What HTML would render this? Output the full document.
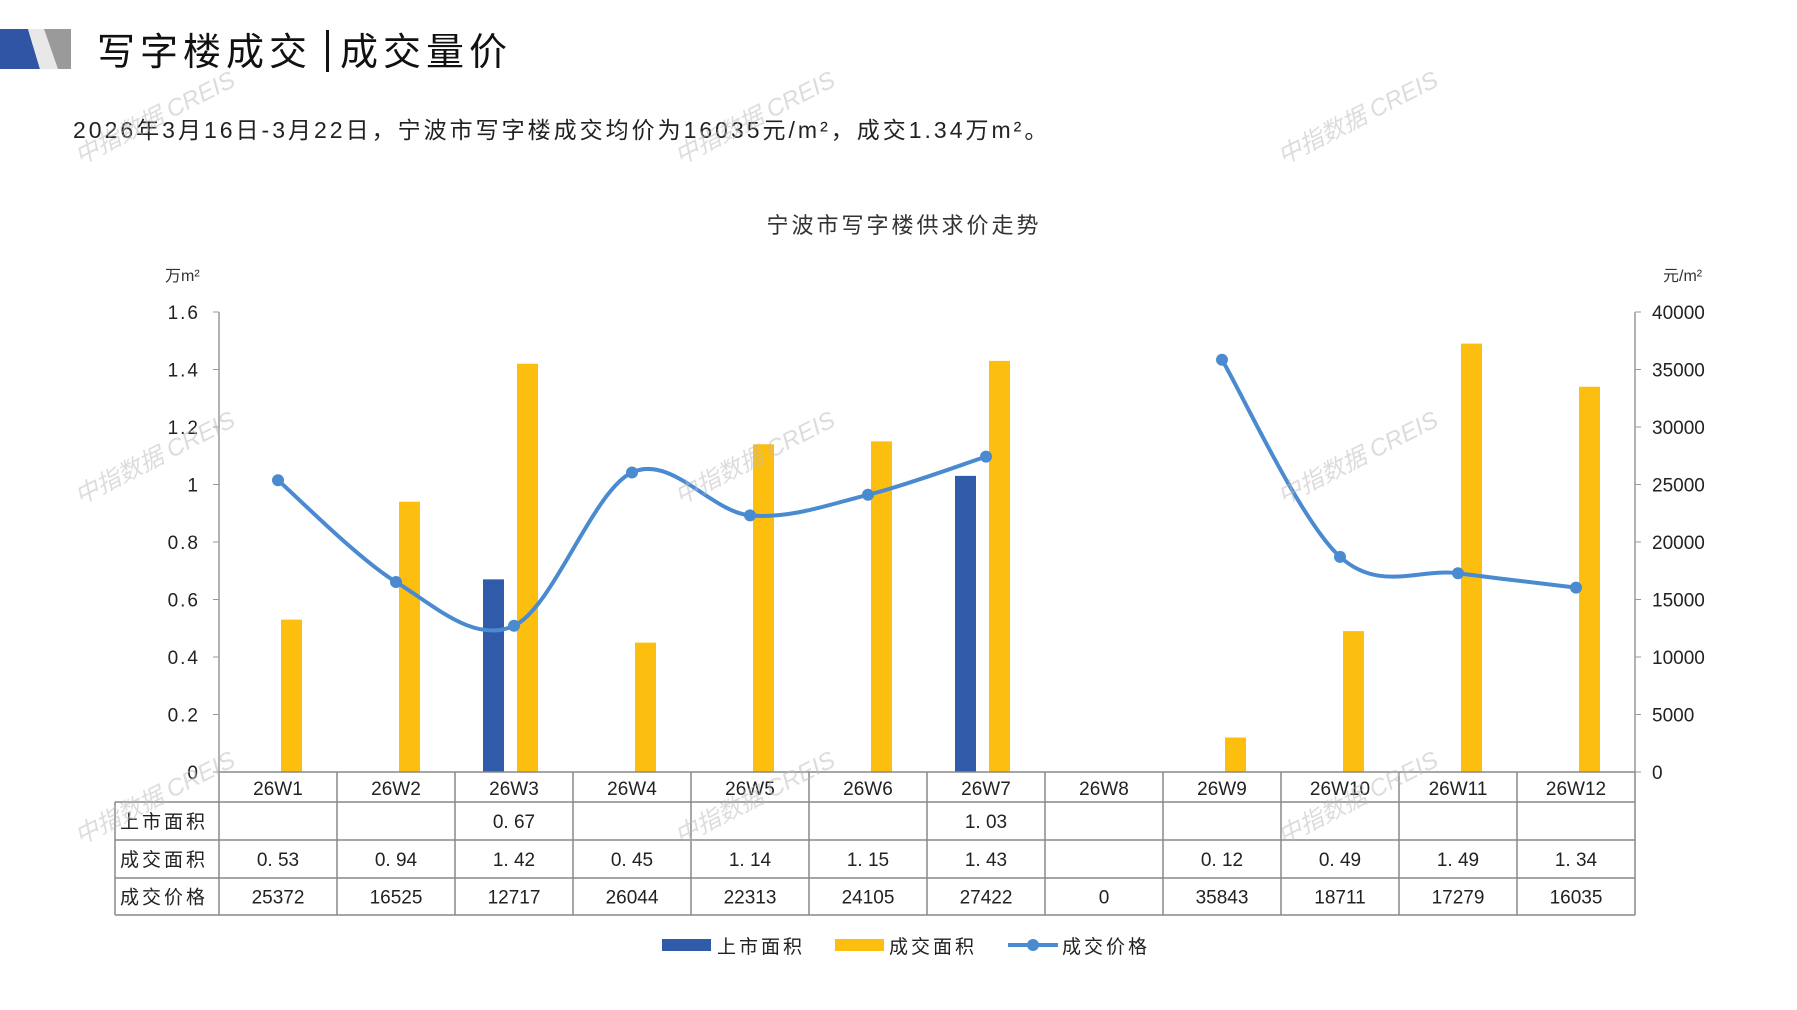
<!DOCTYPE html>
<html><head><meta charset="utf-8">
<style>
html,body{margin:0;padding:0;background:#fff;}
body{width:1797px;height:1010px;position:relative;overflow:hidden;font-family:"Liberation Sans","Noto Sans CJK SC",sans-serif;}
svg{position:absolute;left:0;top:0;}
</style></head><body>
<svg id="s" width="1797" height="1010" viewBox="0 0 1797 1010" xmlns="http://www.w3.org/2000/svg" font-family="Liberation Sans, Noto Sans CJK SC, sans-serif">
<polygon points="0,29 28,29 40,69 0,69" fill="#2f55a4"/>
<polygon points="28,29 71,29 71,69 40,69" fill="#d6d6d6"/>
<polygon points="40,29 71,29 71,69 58,69" fill="#9a9a9a"/>
<polygon points="28,29 44,29 58,69 40,69" fill="#e8e8e8"/>
<text x="97" y="65" font-size="38" fill="#111" letter-spacing="5">写字楼成交</text>
<rect x="326" y="30" width="3" height="42" fill="#111"/>
<text x="340" y="65" font-size="38" fill="#111" letter-spacing="5">成交量价</text>
<text x="73" y="138" font-size="23" fill="#222" letter-spacing="3">2026年3月16日-3月22日，宁波市写字楼成交均价为16035元/m²，成交1.34万m²。</text>
<text x="904" y="233" font-size="22" fill="#333" text-anchor="middle" letter-spacing="3">宁波市写字楼供求价走势</text>
<text x="165" y="281" font-size="16" fill="#333">万m²</text>
<text x="1663" y="281" font-size="16" fill="#333">元/m²</text>
<g id="g"></g>
</svg>
<script>
var g=document.getElementById('g'),h='';
var L=219,R=1635,T=312,B=772,cw=(R-L)/12;
h+='<line x1="'+L+'" y1="'+T+'" x2="'+L+'" y2="'+B+'" stroke="#999" stroke-width="1.5"/>';
h+='<line x1="'+R+'" y1="'+T+'" x2="'+R+'" y2="'+B+'" stroke="#999" stroke-width="1.5"/>';
for(var i=0;i<=8;i++){var y=B-i*(B-T)/8;
h+='<line x1="'+(L-6)+'" y1="'+y+'" x2="'+L+'" y2="'+y+'" stroke="#999"/>';
h+='<line x1="'+R+'" y1="'+y+'" x2="'+(R+6)+'" y2="'+y+'" stroke="#999"/>';
var lv=(i*0.2).toFixed(1);if(lv=='0.0')lv='0';if(lv=='1.0')lv='1';
h+='<text x="200" y="'+(y+7)+'" font-size="19" text-anchor="end" fill="#222" letter-spacing="2">'+lv+'</text>';
h+='<text x="1652" y="'+(y+7)+'" font-size="19" fill="#222">'+(i*5000)+'</text>';}
var sup=[null,null,0.67,null,null,null,1.03,null,null,null,null,null];
var deal=[0.53,0.94,1.42,0.45,1.14,1.15,1.43,null,0.12,0.49,1.49,1.34];
var price=[25372,16525,12717,26044,22313,24105,27422,null,35843,18711,17279,16035];
function cx(i){return L+cw*(i+0.5);}
function by(v){return B-v/1.6*(B-T);}
function py(v){return B-v/40000*(B-T);}
for(i=0;i<12;i++){
if(sup[i]!=null)h+='<rect x="'+(cx(i)-31)+'" y="'+by(sup[i])+'" width="21" height="'+(B-by(sup[i]))+'" fill="#2f5ba8"/>';
if(deal[i]!=null)h+='<rect x="'+(cx(i)+3)+'" y="'+by(deal[i])+'" width="21" height="'+(B-by(deal[i]))+'" fill="#fdbf0f"/>';}
function seg(a,b){var p=[];for(var k=a;k<=b;k++)p.push([cx(k),py(price[k])]);
var d='M'+p[0][0]+','+p[0][1];
for(var k=0;k<p.length-1;k++){var p0=p[k-1]||p[k],p1=p[k],p2=p[k+1],p3=p[k+2]||p2;
var c1=[p1[0]+(p2[0]-p0[0])/6,p1[1]+(p2[1]-p0[1])/6],c2=[p2[0]-(p3[0]-p1[0])/6,p2[1]-(p3[1]-p1[1])/6];
d+=' C'+c1+' '+c2+' '+p2;}
return '<path d="'+d+'" fill="none" stroke="#4a8ad0" stroke-width="4"/>';}
h+=seg(0,6)+seg(8,11);
for(i=0;i<12;i++)if(price[i]!=null)h+='<circle cx="'+cx(i)+'" cy="'+py(price[i])+'" r="6" fill="#4a8ad0"/>';
var TL=115,rows=[772,802,840,878,915];
var st='stroke="#888" stroke-width="1.5"';
h+='<line x1="'+L+'" y1="'+rows[0]+'" x2="'+R+'" y2="'+rows[0]+'" '+st+'/>';
for(var r=1;r<5;r++)h+='<line x1="'+TL+'" y1="'+rows[r]+'" x2="'+R+'" y2="'+rows[r]+'" '+st+'/>';
h+='<line x1="'+TL+'" y1="'+rows[1]+'" x2="'+TL+'" y2="'+rows[4]+'" '+st+'/>';
for(i=0;i<=12;i++){var x=L+cw*i;h+='<line x1="'+x+'" y1="'+rows[0]+'" x2="'+x+'" y2="'+rows[4]+'" '+st+'/>';}
var lab=['上市面积','成交面积','成交价格'];
for(i=0;i<12;i++)h+='<text x="'+cx(i)+'" y="'+(rows[0]+23)+'" font-size="19" text-anchor="middle" fill="#222">26W'+(i+1)+'</text>';
for(r=0;r<3;r++){var yy=(rows[r+1]+rows[r+2])/2+7;
h+='<text x="120" y="'+yy+'" font-size="19" fill="#222" letter-spacing="3">'+lab[r]+'</text>';
for(i=0;i<12;i++){var v=r==0?sup[i]:r==1?deal[i]:price[i];if(r==2&&v==null)v=0;
if(v!=null){var s=r<2?v.toFixed(2).replace('.','. '):v;
h+='<text x="'+cx(i)+'" y="'+yy+'" font-size="19" text-anchor="middle" fill="#222">'+s+'</text>';}}}
h+='<rect x="662" y="939" width="49" height="12" fill="#2f5ba8"/><text x="717" y="953" font-size="19" fill="#222" letter-spacing="3">上市面积</text>';
h+='<rect x="835" y="939" width="49" height="12" fill="#fdbf0f"/><text x="889" y="953" font-size="19" fill="#222" letter-spacing="3">成交面积</text>';
h+='<line x1="1008" y1="945" x2="1058" y2="945" stroke="#4a8ad0" stroke-width="4"/><circle cx="1033" cy="945" r="6" fill="#4a8ad0"/><text x="1062" y="953" font-size="19" fill="#222" letter-spacing="3">成交价格</text>';
var wx=[80,680,1283],wy=[165,505,845];
for(var a=0;a<3;a++)for(var b=0;b<3;b++)h+='<text transform="translate('+wx[a]+','+wy[b]+') rotate(-27)" font-size="24" fill="#bbb" opacity="0.5" font-style="italic">中指数据 CREIS</text>';
g.innerHTML=h;
</script>
</body></html>
